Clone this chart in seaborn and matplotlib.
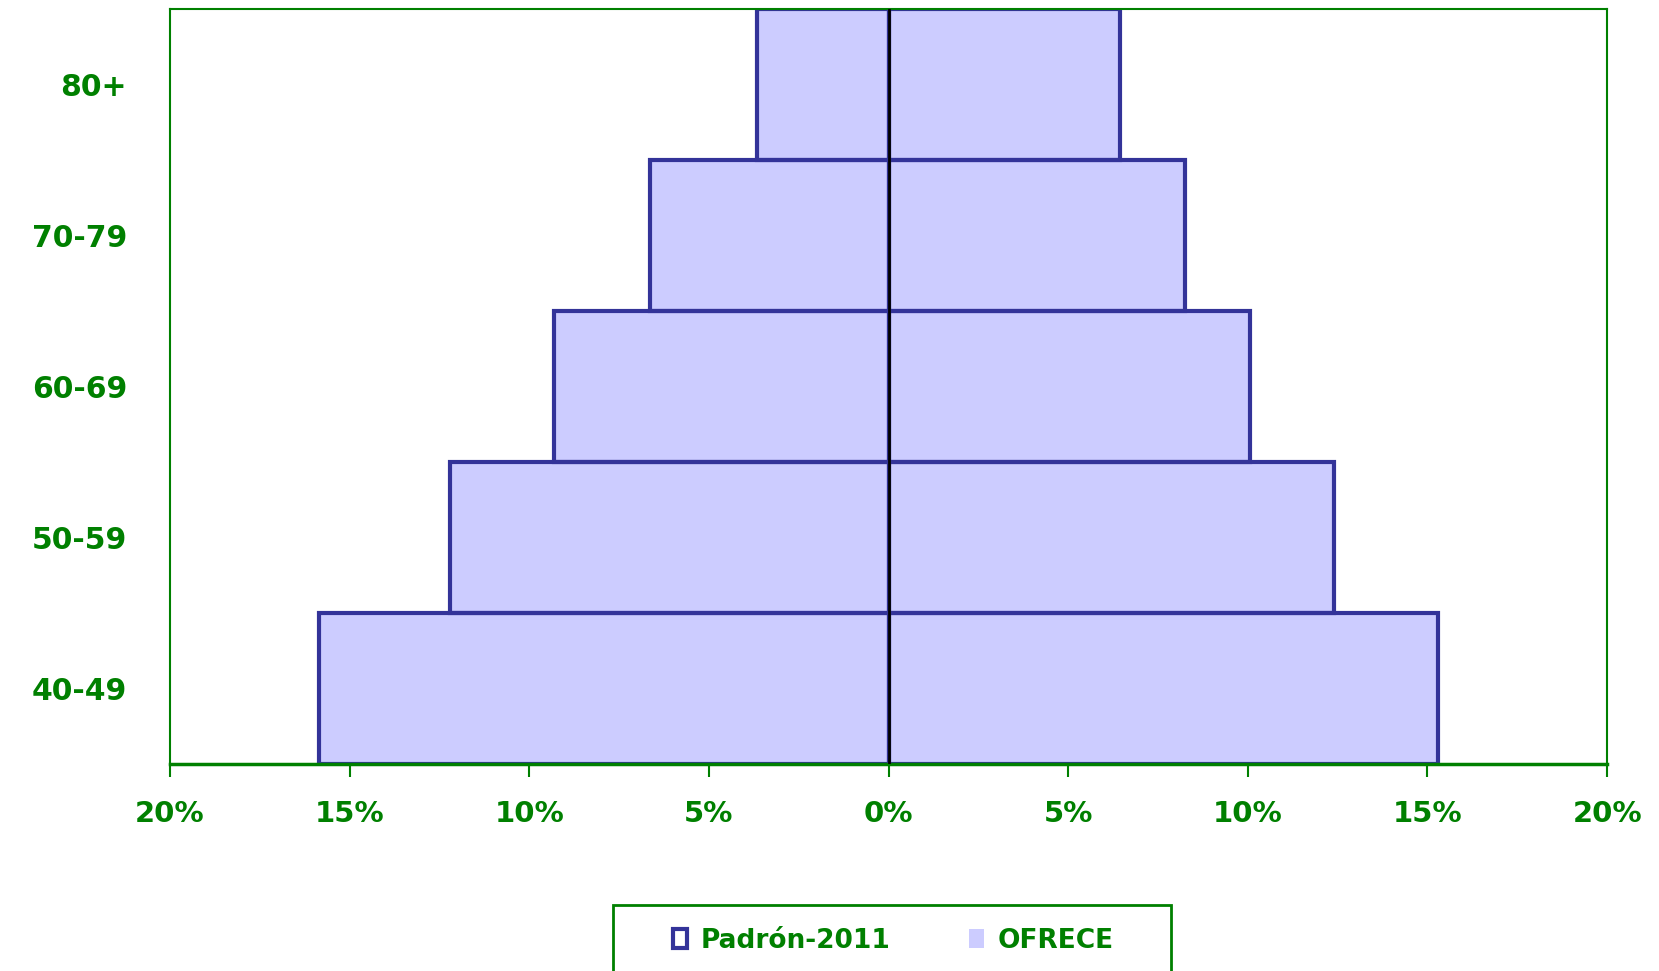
import pandas as pd
import numpy as np
from matplotlib import pyplot as plt
from matplotlib.patches import Patch, Rectangle
import seaborn as sns

# age groups, top to bottom like in the source chart
ages = ['80+', '70-79', '60-69', '50-59', '40-49']

# shares in % (left side / right side of the pyramid)
padron_left = [3.65, 6.65, 9.3, 12.2, 15.85]
padron_right = [6.45, 8.25, 10.05, 12.4, 15.3]
ofrece_left = [3.65, 6.65, 9.3, 12.2, 15.85]
ofrece_right = [6.45, 8.25, 10.05, 12.4, 15.3]

xticks = [-20, -15, -10, -5, 0, 5, 10, 15, 20]

green = '#008000'
fill_col = '#CCCCFF'
edge_col = '#333399'

df = pd.DataFrame({
    'age': ages,
    'pad_l': [-v for v in padron_left],
    'pad_r': padron_right,
    'ofr_l': [-v for v in ofrece_left],
    'ofr_r': ofrece_right,
})

sns.set_style('white')
plt.rcParams['font.family'] = ['DejaVu Sans']

fig = plt.figure(figsize=(16.59, 9.71), dpi=100)
ax = fig.add_axes([0.1025, 0.2132, 0.8662, 0.778])

# OFRECE: filled bars
for col in ['ofr_l', 'ofr_r']:
    sns.barplot(data=df, x=col, y='age', order=ages, orient='h', color=fill_col,
                width=1.0, errorbar=None, linewidth=0, saturation=1, ax=ax)
# Padrón-2011: outline only
for col in ['pad_l', 'pad_r']:
    sns.barplot(data=df, x=col, y='age', order=ages, orient='h', color=edge_col,
                fill=False, width=1.0, errorbar=None, linewidth=3, ax=ax)

ax.axvline(0, color='black', linewidth=2, zorder=5)

ax.set_xlim(-20, 20)
ax.set_ylim(4.5, -0.5)
ax.set_xticks(xticks)
ax.set_xticklabels(['%d%%' % abs(t) for t in xticks])
ax.set_xlabel('')
ax.set_ylabel('')

for s in ax.spines.values():
    s.set_visible(True)
    s.set_color(green)
    s.set_linewidth(1.5)
ax.spines['bottom'].set_linewidth(2.5)

ax.tick_params(axis='x', colors=green, labelsize=21, length=9, width=1.5,
               direction='out', pad=17, bottom=True)
ax.tick_params(axis='y', colors=green, labelsize=21.5, length=0, pad=31)
for lab in ax.get_xticklabels() + ax.get_yticklabels():
    lab.set_fontweight('bold')

# legend (frame drawn separately, it runs off the bottom edge like in the original)
handles = [Patch(facecolor='white', edgecolor=edge_col, linewidth=3, label='Padrón-2011'),
           Patch(facecolor=fill_col, edgecolor='none', label='OFRECE')]
leg = fig.legend(handles=handles, loc='center', bbox_to_anchor=(0.5383, 0.031),
                 ncol=2, frameon=False, borderpad=0,
                 handlelength=0.55, handleheight=0.7, handletextpad=0.5, columnspacing=3.0,
                 prop={'weight': 'bold', 'size': 19})
for t in leg.get_texts():
    t.set_color(green)
fig.patches.append(Rectangle((0.3695, -0.05), 0.3363, 0.118, transform=fig.transFigure,
                             facecolor='none', edgecolor=green, linewidth=2))

plt.savefig('out.png', dpi=100)
